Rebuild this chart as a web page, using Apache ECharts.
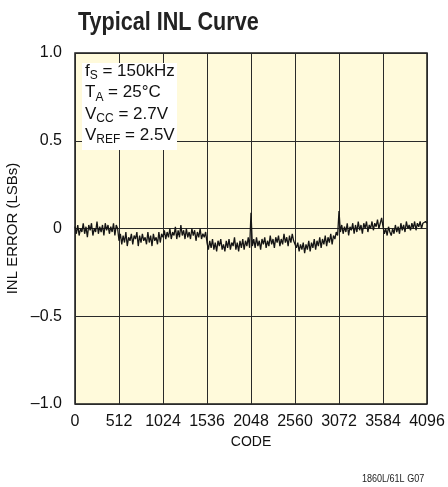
<!DOCTYPE html>
<html><head><meta charset="utf-8">
<script src="https://cdn.jsdelivr.net/npm/echarts@6/dist/echarts.min.js"></script>
<style>html,body{margin:0;padding:0;background:#fff}#c{width:448px;height:487px}</style>
</head><body><div id="c"></div>
<script>
// INL error (LSB) per 512-code segment, sampled every 16 codes
const seg0 = [0.01,-0.03,0.02,-0.04,0.00,-0.02,0.03,-0.03,0.01,-0.05,0.02,-0.01,0.03,-0.04,0.00,-0.02,0.04,-0.03,0.01,-0.02,0.02,-0.04,0.03,-0.01,0.02,-0.03,0.01,-0.02,0.03,-0.04,0.02,0.00];
const seg1 = [-0.07,-0.03,-0.09,-0.04,-0.08,-0.02,-0.10,-0.05,-0.07,-0.03,-0.09,-0.04,-0.06,-0.02,-0.10,-0.04,-0.08,-0.03,-0.07,-0.05,-0.09,-0.02,-0.08,-0.04,-0.10,-0.03,-0.07,-0.05,-0.09,-0.02,-0.08,-0.03];
const seg2 = [-0.05,-0.01,-0.06,-0.02,-0.05,0.00,-0.06,-0.02,-0.04,0.01,-0.06,-0.01,-0.05,0.02,-0.04,-0.01,-0.06,0.00,-0.05,-0.02,-0.06,0.00,-0.04,-0.01,-0.07,-0.02,-0.05,0.00,-0.06,-0.03,-0.05,-0.02];
const seg3 = [-0.08,-0.12,-0.07,-0.11,-0.06,-0.12,-0.08,-0.13,-0.07,-0.10,-0.06,-0.12,-0.09,-0.13,-0.07,-0.11,-0.06,-0.12,-0.08,-0.10,-0.05,-0.12,-0.08,-0.13,-0.07,-0.11,-0.06,-0.12,-0.07,-0.10,-0.05,-0.11];
const seg4 = [0.09,-0.10,-0.06,-0.11,-0.05,-0.10,-0.07,-0.12,-0.06,-0.09,-0.05,-0.11,-0.07,-0.10,-0.04,-0.09,-0.06,-0.11,-0.05,-0.08,-0.04,-0.10,-0.06,-0.09,-0.03,-0.08,-0.05,-0.10,-0.04,-0.08,-0.03,-0.07];
const seg5 = [-0.06,-0.11,-0.08,-0.13,-0.09,-0.12,-0.08,-0.14,-0.09,-0.12,-0.07,-0.13,-0.08,-0.11,-0.06,-0.12,-0.07,-0.10,-0.05,-0.11,-0.06,-0.09,-0.04,-0.10,-0.05,-0.08,-0.03,-0.09,-0.04,-0.06,-0.02,-0.04];
const seg6 = [0.10,-0.02,0.02,-0.03,0.01,-0.02,0.03,-0.04,0.01,-0.01,0.03,-0.03,0.02,-0.02,0.04,-0.01,0.02,-0.03,0.03,0.00,0.04,-0.02,0.02,0.00,0.04,-0.01,0.03,0.01,0.05,0.00,0.03,0.06];
const seg7 = [0.01,-0.03,0.00,-0.04,0.01,-0.02,-0.04,0.00,-0.03,0.02,-0.02,0.01,-0.03,0.03,-0.01,0.02,-0.02,0.04,0.00,0.02,-0.01,0.03,0.00,0.04,-0.01,0.03,0.01,0.04,0.00,0.03,0.02,0.04];
const lastValue = [0.03];
const codeStep = 16;

const xTickLabels = ['0','512','1024','1536','2048','2560','3072','3584','4096'];
const yTickLabels = {'-1':'\u20131.0','-0.5':'\u20130.5','0':'0','0.5':'0.5','1':'1.0'};

const inl = [].concat(seg0,seg1,seg2,seg3,seg4,seg5,seg6,seg7,lastValue);
const data = inl.map((v,i)=>[i*codeStep, v]);

const FONT = '"Liberation Sans", Arial, Helvetica, sans-serif';
const chart = echarts.init(document.getElementById('c'), null, {renderer:'canvas'});

const rich = {
  n:{fontFamily:FONT, fontSize:17, lineHeight:21, color:'#111'},
  s:{fontFamily:FONT, fontSize:12, lineHeight:9, verticalAlign:'bottom', color:'#111'}
};
const noteLines = [
  '{n|f}{s|S}{n| = 150kHz}',
  '{n|T}{s|A}{n| = 25°C}',
  '{n|V}{s|CC}{n| = 2.7V}',
  '{n|V}{s|REF}{n| = 2.5V}'
];

chart.setOption({
  animation:false,
  grid:{left:75, right:21, top:53, bottom:83, containLabel:false, outerBoundsMode:'none',
    show:true, backgroundColor:'#fffadb', borderColor:'#1a1a1a', borderWidth:1.5},
  xAxis:{type:'value', min:0, max:4096, interval:512,
    name:'CODE', nameLocation:'middle', nameGap:29,
    nameTextStyle:{fontFamily:FONT, fontSize:14, color:'#111'},
    axisLine:{show:false}, axisTick:{show:false},
    axisLabel:{fontFamily:FONT, fontSize:16, color:'#111', margin:10, showMinLabel:true, showMaxLabel:true,
      hideOverlap:false, formatter:(v)=>xTickLabels[Math.round(v/512)]},
    splitLine:{show:true, lineStyle:{color:'#2a2a2a', width:1}}},
  yAxis:{type:'value', min:-1, max:1, interval:0.5,
    name:'INL ERROR (LSBs)', nameLocation:'middle', nameGap:45,
    nameTextStyle:{fontFamily:FONT, fontSize:15, color:'#111'},
    axisLine:{show:false}, axisTick:{show:false},
    axisLabel:{fontFamily:FONT, fontSize:16, color:'#111', margin:13,
      formatter:(v)=>yTickLabels[String(v)]},
    splitLine:{show:true, lineStyle:{color:'#2a2a2a', width:1}}},
  series:[{type:'line', data:data, showSymbol:false, symbol:'none',
    lineStyle:{color:'#151515', width:1.3}, z:3}],
  graphic:[
    {type:'text', x:78, y:10, scaleX:0.83, style:{text:'Typical INL Curve', fontFamily:FONT, fontWeight:'bold', fontSize:26, fill:'#222'}},
    {type:'rect', shape:{x:82, y:63, width:95, height:87}, style:{fill:'#fff'}, z:10},
    ...noteLines.map((t,i)=>({type:'text', x:85, y:61+i*21.3, z:11,
      style:{text:t, rich:rich, fill:'#111'}})),
    {type:'text', x:362, y:473, scaleX:0.82, style:{text:'1860L/61L G07', fontFamily:FONT, fontSize:11, fill:'#222'}}
  ]
});
</script></body></html>
